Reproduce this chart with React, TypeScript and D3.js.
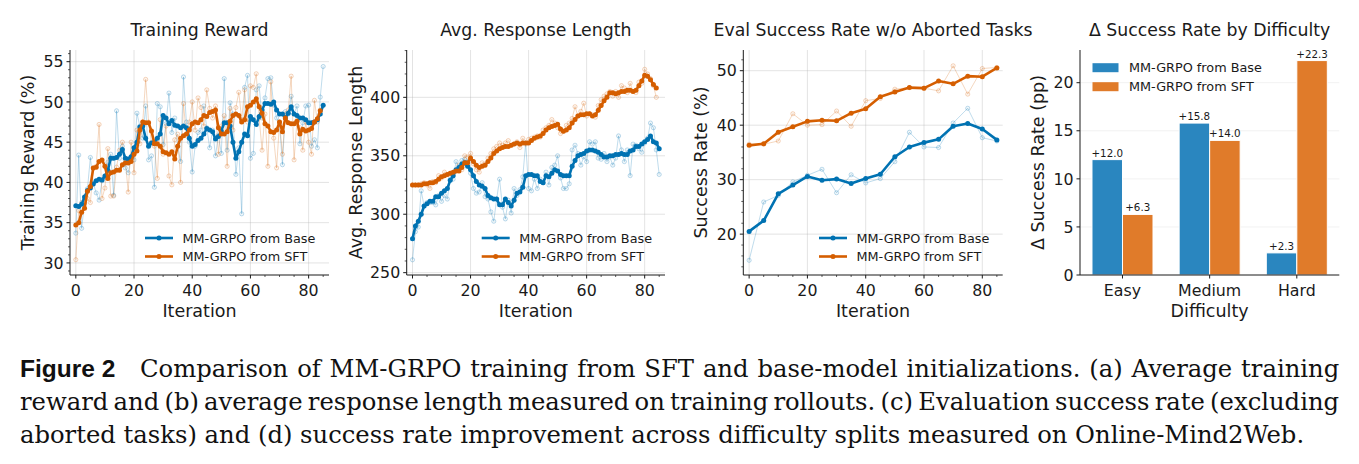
import React, { useLayoutEffect, useRef, useState } from 'react';
import * as d3 from 'd3';

// ---------------- DATA ----------------
const rewardBaseRaw = [
  33.7, 43.4, 34.3, 37.5, 39.2, 43.1, 39.9, 38.7, 37.8, 40.2,
  40.6, 42.5, 43.5, 38.4, 48.9, 43.0, 44.5, 41.8, 41.2, 43.0,
  42.8, 48.6, 47.0, 45.5, 49.5, 42.8, 43.3, 39.4, 49.8, 49.4,
  44.7, 47.3, 51.1, 46.2, 48.0, 44.5, 42.6, 53.1, 47.5, 45.0,
  41.3, 44.5, 46.2, 46.5, 49.5, 46.8, 44.3, 46.5, 43.3, 45.9,
  43.6, 52.9, 44.0, 49.9, 48.5, 41.0, 44.3, 36.1, 51.8, 53.3,
  43.0, 43.6, 51.5, 52.0, 48.0, 50.5, 52.9, 53.0, 49.6, 48.0,
  47.3, 42.2, 48.8, 48.5, 50.7, 48.5, 49.5, 44.8, 47.4, 49.5,
  49.6, 44.5, 45.3, 44.3, 50.6, 54.4,
];
const rewardBaseSmooth = [
  37.1, 37.0, 37.3, 38.2, 39.0, 39.3, 39.8, 40.2, 40.4, 40.3,
  40.8, 41.5, 43.0, 43.0, 43.1, 43.5, 44.1, 43.0, 42.9, 43.2,
  44.3, 45.0, 46.9, 47.0, 45.5, 44.5, 44.9, 45.0, 45.5, 46.0,
  48.3, 48.0, 47.3, 47.7, 47.1, 47.0, 46.8, 47.0, 46.8, 45.5,
  44.5, 44.7, 45.2, 45.5, 46.0, 46.7, 46.5, 46.3, 45.4, 45.7,
  46.4, 47.4, 47.4, 47.0, 45.0, 43.0, 43.8, 45.0, 46.0, 45.8,
  48.2, 47.8, 47.2, 48.2, 49.0, 49.8, 49.8, 49.7, 50.0, 49.0,
  48.5, 48.5, 48.0, 48.6, 49.4, 48.5, 48.3, 48.0, 48.0, 47.8,
  47.4, 47.4, 47.5, 47.8, 48.5, 49.6,
];
const rewardSftRaw = [
  30.4, 36.5, 37.5, 37.4, 38.0, 37.5, 41.8, 42.0, 47.2, 38.0,
  39.3, 44.2, 38.3, 38.3, 41.9, 44.0, 45.0, 42.8, 38.8, 45.0,
  41.2, 46.5, 44.8, 47.5, 52.8, 47.5, 45.0, 44.5, 40.5, 47.8,
  43.5, 47.0, 40.8, 39.7, 45.3, 46.0, 40.0, 49.8, 45.8, 47.5,
  50.0, 46.5, 50.5, 49.3, 47.0, 51.5, 49.2, 48.0, 49.5, 43.5,
  47.0, 48.3, 42.0, 49.2, 46.5, 49.3, 51.2, 47.8, 51.5, 47.5,
  52.0, 51.8, 53.5, 48.0, 44.0, 48.5, 42.0, 52.5, 45.5, 41.8,
  47.5, 43.5, 48.5, 49.0, 53.2, 42.8, 47.7, 46.8, 44.0, 47.5,
  45.0, 43.5, 50.2, 47.5, 49.0,
];
const rewardSftSmooth = [
  34.7, 35.0, 36.3, 36.8, 38.9, 39.5, 41.8, 41.9, 42.6, 42.8,
  42.0, 40.5, 41.2, 41.3, 41.5, 41.5, 42.2, 42.4, 42.4, 42.6,
  43.5, 43.9, 46.5, 47.5, 47.4, 47.4, 46.4, 44.8, 44.8, 44.5,
  43.8, 43.7, 43.5, 43.8, 42.9, 44.5, 45.5, 45.8, 46.0, 46.5,
  47.3, 47.5, 47.4, 47.8, 48.3, 48.2, 48.7, 48.8, 49.0, 46.8,
  46.0, 46.0, 46.3, 47.6, 48.3, 48.5, 48.3, 47.5, 47.8, 49.4,
  49.6, 50.0, 50.4, 49.4, 48.6, 47.3, 47.0, 46.3, 46.2, 46.5,
  47.5, 46.3, 48.0, 47.4, 47.3, 47.3, 47.6, 46.0, 46.6, 46.4,
  46.5, 46.7, 47.5, 47.9, 48.9,
];

const lengthBaseRaw = [
  261, 285, 289, 320, 307, 310, 310, 310, 308, 316,
  311, 316, 313, 330, 330, 345, 341, 346, 347, 345,
  335, 322, 318, 319, 327, 315, 313, 302, 294, 313,
  330, 306, 296, 312, 301, 322, 316, 321, 332, 361,
  322, 320, 330, 322, 330, 327, 336, 325, 340, 342,
  350, 331, 322, 322, 326, 355, 359, 352, 342, 349,
  345, 362, 360, 362, 348, 347, 352, 345, 349, 342,
  348, 367, 355, 345, 355, 333, 360, 359, 356, 353,
  361, 365, 378, 374, 355, 334,
];
const lengthBaseSmooth = [
  279, 290, 294, 300, 307, 309, 311, 311, 315, 315,
  318, 320, 322, 329, 333, 338, 340, 343, 344, 341,
  338, 333, 328, 325, 324, 322, 316, 314, 313, 313,
  308, 308, 313, 310, 307, 312, 318, 319, 323, 333,
  334, 334, 333, 333, 328, 327, 333, 332, 335, 338,
  337, 334, 333, 333, 333, 341, 346, 350, 351, 352,
  354, 355, 355, 354, 353, 351, 349, 349, 350, 350,
  351, 351, 352, 351, 351, 354, 355, 358, 358, 360,
  362, 364, 367, 362, 361, 356,
];
const lengthSftRaw = [
  325, 325, 325, 326, 327, 325, 322, 328, 327, 333,
  331, 336, 334, 335, 333, 337, 342, 338, 350, 349,
  352, 343, 338, 336, 344, 343, 348, 352, 356, 358,
  361, 359, 361, 363, 359, 360, 362, 357, 365, 360,
  364, 365, 366, 367, 366, 372, 374, 376, 381, 378,
  374, 369, 371, 376, 378, 382, 392, 384, 388, 395,
  384, 386, 385, 383, 393, 398, 401, 403, 405, 401,
  405, 400, 410, 408, 404, 412, 405, 404, 413, 412,
  424, 420, 416, 410, 400,
];
const lengthSftSmooth = [
  325, 325, 325, 325, 326, 326, 327, 327, 328, 330,
  332, 333, 334, 335, 336, 337, 337, 340, 344, 344,
  348, 345, 342, 340, 341, 342, 345, 348, 352, 354,
  356, 357, 358, 358, 359, 360, 361, 360, 361, 361,
  361, 363, 365, 366, 367, 369, 372, 374, 375, 376,
  377, 373, 371, 372, 374, 378, 381, 384, 385, 385,
  386, 386, 384, 385, 389, 393, 397, 400, 404, 404,
  403, 404, 405, 405, 406, 406, 405, 406, 410, 414,
  419, 418, 415, 411, 408,
];

const evalIterations = [0, 5, 10, 15, 20, 25, 30, 35, 40, 45, 50, 55, 60, 65, 70, 75, 80, 85];
const evalBaseRaw = [15.2, 25.9, 27.1, 29.6, 30.8, 31.9, 27.6, 30.9, 29.4, 30.2, 33.3, 38.7, 36.0, 35.9, 40.4, 43.1, 37.7, 37.1];
const evalBaseSmooth = [20.5, 22.5, 27.4, 29.0, 30.6, 29.9, 30.1, 29.3, 30.2, 31.0, 34.2, 36.0, 36.8, 37.4, 39.8, 40.3, 39.3, 37.3];
const evalSftRaw = [36.5, 36.5, 37.1, 42.1, 40.0, 40.1, 42.6, 39.8, 44.5, 44.9, 46.6, 46.9, 46.8, 46.3, 50.9, 45.7, 50.4, 50.6];
const evalSftSmooth = [36.3, 36.6, 38.7, 39.7, 40.7, 40.9, 40.8, 42.2, 43.0, 45.2, 46.1, 46.9, 46.8, 48.1, 47.6, 49.0, 48.9, 50.5];

const difficulties = ['Easy', 'Medium', 'Hard'];
const deltaBase = [12.0, 15.8, 2.3];
const deltaSft = [6.3, 14.0, 22.3];

const seriesLabels = ['MM-GRPO from Base', 'MM-GRPO from SFT'];

const captionBold = 'Figure 2';
const captionLine1 = 'Comparison of MM-GRPO training from SFT and base-model initializations. (a) Average training';
const captionLine2 = 'reward and (b) average response length measured on training rollouts. (c) Evaluation success rate (excluding';
const captionLine3 = 'aborted tasks) and (d) success rate improvement across difficulty splits measured on Online-Mind2Web.';

// ---------------- STYLE ----------------
const W = 1359;
const H = 464;
const FONT = "'DejaVu Sans', sans-serif";
const BLUE = '#0072B2';
const ORANGE = '#D55E00';
const BAR_BLUE = '#2A86BF';
const BAR_ORANGE = '#E07B2A';
const AX_TOP = 50;
const AX_BOTTOM = 275;
const INK = '#1a1a1a';
const TICK_FS = 15.8;
const LABEL_FS = 17.5;
const TITLE_FS = 17.3;
const LEGEND_FS = 12.8;

type Series = {
  color: string;
  label: string;
  xsRaw: number[];
  raw: number[];
  xsSmooth: number[];
  smooth: number[];
};

type PanelProps = {
  left: number;
  right: number;
  yDomain: [number, number];
  yTicks: number[];
  yMinorStep: number;
  series: Series[];
  title: string;
  ylabel: string;
  ylabelX: number;
  legendX: number;
};

function LinePanel(p: PanelProps) {
  const x = d3.scaleLinear().domain([-2, 87]).range([p.left, p.right]);
  const y = d3.scaleLinear().domain(p.yDomain).range([AX_BOTTOM, AX_TOP]);
  const xTicks = [0, 20, 40, 60, 80];
  const xMinor = d3.range(0, 86, 5).filter((v) => v % 20 !== 0);
  const yMinor = d3
    .range(Math.ceil(p.yDomain[0] / p.yMinorStep) * p.yMinorStep, p.yDomain[1], p.yMinorStep)
    .filter((v) => !p.yTicks.includes(v));
  const cx = (p.left + p.right) / 2;
  const cy = (AX_TOP + AX_BOTTOM) / 2;

  const mkLine = (xs: number[]) =>
    d3
      .line<number>()
      .x((_, i) => x(xs[i]))
      .y((d) => y(d));

  return (
    <g>
      {xTicks.map((t) => (
        <line key={'gx' + t} x1={x(t)} x2={x(t)} y1={AX_TOP} y2={AX_BOTTOM} stroke="#b0b0b0" strokeOpacity={0.4} strokeWidth={0.9} />
      ))}
      {p.yTicks.map((t) => (
        <line key={'gy' + t} x1={p.left} x2={p.right} y1={y(t)} y2={y(t)} stroke="#b0b0b0" strokeOpacity={0.4} strokeWidth={0.9} />
      ))}
      {p.series.map((s, si) => (
        <g key={'raw' + si}>
          <path d={mkLine(s.xsRaw)(s.raw) || ''} fill="none" stroke={s.color} strokeOpacity={0.25} strokeWidth={1} />
          {s.raw.map((v, i) => (
            <circle key={i} cx={x(s.xsRaw[i])} cy={y(v)} r={2.1} fill={s.color} fillOpacity={0.06} stroke={s.color} strokeOpacity={0.3} strokeWidth={0.8} />
          ))}
        </g>
      ))}
      {p.series.map((s, si) => (
        <g key={'sm' + si}>
          <path d={mkLine(s.xsSmooth)(s.smooth) || ''} fill="none" stroke={s.color} strokeWidth={2.6} strokeLinejoin="round" strokeLinecap="round" />
          {s.smooth.map((v, i) => (
            <circle key={i} cx={x(s.xsSmooth[i])} cy={y(v)} r={2.5} fill={s.color} />
          ))}
        </g>
      ))}
      <line x1={p.left} x2={p.left} y1={AX_TOP} y2={AX_BOTTOM} stroke={INK} strokeWidth={1} />
      <line x1={p.left} x2={p.right} y1={AX_BOTTOM} y2={AX_BOTTOM} stroke={INK} strokeWidth={1} />
      {xTicks.map((t) => (
        <g key={'xt' + t}>
          <line x1={x(t)} x2={x(t)} y1={AX_BOTTOM} y2={AX_BOTTOM + 3.5} stroke={INK} strokeWidth={1} />
          <text x={x(t)} y={296} fontSize={TICK_FS} textAnchor="middle" fill={INK}>{t}</text>
        </g>
      ))}
      {xMinor.map((t) => (
        <line key={'xm' + t} x1={x(t)} x2={x(t)} y1={AX_BOTTOM} y2={AX_BOTTOM + 2} stroke={INK} strokeWidth={0.7} />
      ))}
      {p.yTicks.map((t) => (
        <g key={'yt' + t}>
          <line x1={p.left - 3.5} x2={p.left} y1={y(t)} y2={y(t)} stroke={INK} strokeWidth={1} />
          <text x={p.left - 6.5} y={y(t)} dy="0.36em" fontSize={TICK_FS} textAnchor="end" fill={INK}>{t}</text>
        </g>
      ))}
      {yMinor.map((t) => (
        <line key={'ym' + t} x1={p.left - 2} x2={p.left} y1={y(t)} y2={y(t)} stroke={INK} strokeWidth={0.7} />
      ))}
      <text x={cx} y={36} fontSize={TITLE_FS} textAnchor="middle" fill={INK}>{p.title}</text>
      <text x={cx} y={316.5} fontSize={LABEL_FS} textAnchor="middle" fill={INK}>Iteration</text>
      <text transform={`translate(${p.ylabelX},${cy}) rotate(-90)`} dy="0.35em" fontSize={LABEL_FS} textAnchor="middle" fill={INK}>{p.ylabel}</text>
      {p.series.map((s, si) => {
        const ly = 238 + si * 18.5;
        return (
          <g key={'lg' + si}>
            <line x1={p.legendX} x2={p.legendX + 28} y1={ly} y2={ly} stroke={s.color} strokeWidth={2.6} />
            <circle cx={p.legendX + 14} cy={ly} r={2.5} fill={s.color} />
            <text x={p.legendX + 37.5} y={ly} dy="0.36em" fontSize={LEGEND_FS} fill={INK}>{s.label}</text>
          </g>
        );
      })}
    </g>
  );
}

function BarPanel() {
  const left = 1080;
  const right = 1339.3;
  const x = d3.scaleLinear().domain([-0.4875, 2.4875]).range([left, right]);
  const y = d3.scaleLinear().domain([0, 23.4]).range([AX_BOTTOM, AX_TOP]);
  const bw = 0.35;
  const yTicks = [0, 5, 10, 15, 20];
  const cx = (left + right) / 2;
  const cy = (AX_TOP + AX_BOTTOM) / 2;
  const groups = [
    { vals: deltaBase, color: BAR_BLUE, off: -bw },
    { vals: deltaSft, color: BAR_ORANGE, off: 0 },
  ];
  return (
    <g>
      {yTicks.filter((t) => t > 0).map((t) => (
        <line key={'g' + t} x1={left} x2={right} y1={y(t)} y2={y(t)} stroke="#b0b0b0" strokeOpacity={0.18} strokeWidth={0.9} />
      ))}
      {groups.map((g, gi) =>
        g.vals.map((v, i) => (
          <g key={gi + '-' + i}>
            <rect x={x(i + g.off)} width={x(bw) - x(0)} y={y(v)} height={y(0) - y(v)} fill={g.color} stroke="#ffffff" strokeWidth={1} />
            <text x={x(i + g.off + bw / 2)} y={y(v) - 3} fontSize={10.3} textAnchor="middle" fill={INK}>{'+' + v.toFixed(1)}</text>
          </g>
        ))
      )}
      <line x1={left} x2={left} y1={AX_TOP} y2={AX_BOTTOM} stroke={INK} strokeWidth={1} />
      <line x1={left} x2={right} y1={AX_BOTTOM} y2={AX_BOTTOM} stroke={INK} strokeWidth={1} />
      {difficulties.map((d, i) => (
        <g key={d}>
          <line x1={x(i)} x2={x(i)} y1={AX_BOTTOM} y2={AX_BOTTOM + 3.5} stroke={INK} strokeWidth={1} />
          <text x={x(i)} y={296} fontSize={TICK_FS} textAnchor="middle" fill={INK}>{d}</text>
        </g>
      ))}
      {yTicks.map((t) => (
        <g key={'yt' + t}>
          <line x1={left - 3.5} x2={left} y1={y(t)} y2={y(t)} stroke={INK} strokeWidth={1} />
          <text x={left - 6.5} y={y(t)} dy="0.36em" fontSize={TICK_FS} textAnchor="end" fill={INK}>{t}</text>
        </g>
      ))}
      <text x={cx} y={36} fontSize={TITLE_FS} textAnchor="middle" fill={INK}>Δ Success Rate by Difficulty</text>
      <text x={cx} y={316.5} fontSize={LABEL_FS} textAnchor="middle" fill={INK}>Difficulty</text>
      <text transform={`translate(1037.5,${cy}) rotate(-90)`} dy="0.35em" fontSize={LABEL_FS} textAnchor="middle" fill={INK}>Δ Success Rate (pp)</text>
      {groups.map((g, gi) => {
        const ly = 67.7 + gi * 19;
        return (
          <g key={'lg' + gi}>
            <rect x={1092.5} y={ly - 4.5} width={26} height={9} fill={g.color} />
            <text x={1129} y={ly} dy="0.36em" fontSize={LEGEND_FS} fill={INK}>{seriesLabels[gi]}</text>
          </g>
        );
      })}
    </g>
  );
}

function Caption() {
  const r1 = useRef<SVGTextElement>(null);
  const r2 = useRef<SVGTextElement>(null);
  const r3 = useRef<SVGTextElement>(null);
  const BASE_FS = 20;
  const L1_X = 140;
  const [st, setSt] = useState({ fs: BASE_FS, ws1: 0, ws2: 0 });
  useLayoutEffect(() => {
    if (!r1.current || !r2.current || !r3.current) return;
    const w1 = r1.current.getComputedTextLength();
    const w2 = r2.current.getComputedTextLength();
    const w3 = r3.current.getComputedTextLength();
    const ratio = 1285 / w3;
    const n1 = captionLine1.split(' ').length - 1;
    const n2 = captionLine2.split(' ').length - 1;
    const ws1 = (1340 - L1_X - w1 * ratio) / n1;
    const ws2 = (1320 - w2 * ratio) / n2;
    setSt({ fs: BASE_FS * ratio, ws1, ws2 });
  }, []);
  const serif = "'DejaVu Serif', serif";
  return (
    <g fill="#111">
      <text x={20} y={377} fontFamily="'Liberation Sans', Arial, sans-serif" fontWeight="bold" fontSize={24.5}>{captionBold}</text>
      <text ref={r1} x={L1_X} y={377} fontFamily={serif} fontSize={st.fs} wordSpacing={st.ws1}>{captionLine1}</text>
      <text ref={r2} x={20} y={410} fontFamily={serif} fontSize={st.fs} wordSpacing={st.ws2}>{captionLine2}</text>
      <text ref={r3} x={20} y={443} fontFamily={serif} fontSize={st.fs}>{captionLine3}</text>
    </g>
  );
}

export default function App() {
  const idx86 = rewardBaseRaw.map((_, i) => i);
  const idx85 = rewardSftRaw.map((_, i) => i);
  return (
    <svg width={W} height={H} viewBox={`0 0 ${W} ${H}`} style={{ position: 'absolute', left: 0, top: 0, background: '#fff' }} fontFamily={FONT}>
      <rect width={W} height={H} fill="#fff" />
      <LinePanel
        left={70}
        right={329}
        yDomain={[28.5, 56.45]}
        yTicks={[30, 35, 40, 45, 50, 55]}
        yMinorStep={1}
        title="Training Reward"
        ylabel="Training Reward (%)"
        ylabelX={28.3}
        legendX={145}
        series={[
          { color: BLUE, label: seriesLabels[0], xsRaw: idx86, raw: rewardBaseRaw, xsSmooth: idx86, smooth: rewardBaseSmooth },
          { color: ORANGE, label: seriesLabels[1], xsRaw: idx85, raw: rewardSftRaw, xsSmooth: idx85, smooth: rewardSftSmooth },
        ]}
      />
      <LinePanel
        left={406.7}
        right={665}
        yDomain={[248, 440.5]}
        yTicks={[250, 300, 350, 400]}
        yMinorStep={10}
        title="Avg. Response Length"
        ylabel="Avg. Response Length"
        ylabelX={355.8}
        legendX={481.7}
        series={[
          { color: BLUE, label: seriesLabels[0], xsRaw: idx86, raw: lengthBaseRaw, xsSmooth: idx86, smooth: lengthBaseSmooth },
          { color: ORANGE, label: seriesLabels[1], xsRaw: idx85, raw: lengthSftRaw, xsSmooth: idx85, smooth: lengthSftSmooth },
        ]}
      />
      <LinePanel
        left={743.3}
        right={1002.7}
        yDomain={[12.5, 53.8]}
        yTicks={[20, 30, 40, 50]}
        yMinorStep={2}
        title="Eval Success Rate w/o Aborted Tasks"
        ylabel="Success Rate (%)"
        ylabelX={701}
        legendX={819}
        series={[
          { color: BLUE, label: seriesLabels[0], xsRaw: evalIterations, raw: evalBaseRaw, xsSmooth: evalIterations, smooth: evalBaseSmooth },
          { color: ORANGE, label: seriesLabels[1], xsRaw: evalIterations, raw: evalSftRaw, xsSmooth: evalIterations, smooth: evalSftSmooth },
        ]}
      />
      <BarPanel />
      <Caption />
    </svg>
  );
}
